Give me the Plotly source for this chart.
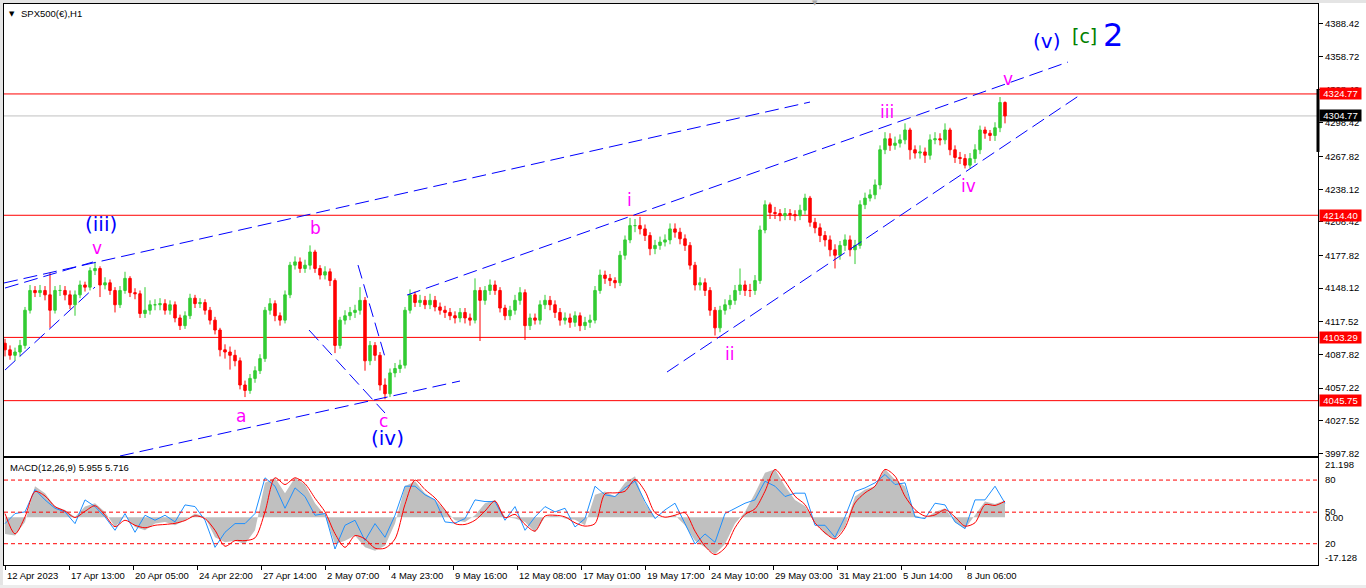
import plotly.graph_objects as go

# SPX500(€) H1 - price, one candle per ~5 hourly bars
closes = [
    4092, 4087, 4090, 4096, 4128, 4146, 4144, 4146, 4142, 4128,
    4146, 4146, 4142, 4133, 4142, 4151, 4149, 4164, 4166, 4151,
    4153, 4146, 4133, 4146, 4157, 4144, 4143, 4125, 4128, 4133,
    4133, 4134, 4128, 4133, 4121, 4114, 4123, 4139, 4134, 4135,
    4128, 4119, 4110, 4092, 4090, 4087, 4082, 4060, 4055, 4066,
    4073, 4084, 4128, 4134, 4123, 4119, 4142, 4169, 4172, 4166,
    4169, 4181, 4166, 4160, 4163, 4155, 4096, 4119, 4123, 4126,
    4128, 4137, 4082, 4096, 4087, 4060, 4052, 4071, 4075, 4078,
    4128, 4142, 4135, 4137, 4133, 4137, 4131, 4128, 4126, 4123,
    4121, 4126, 4121, 4119, 4146, 4137, 4146, 4151, 4146, 4130,
    4123, 4128, 4137, 4144, 4114, 4121, 4119, 4133, 4137, 4133,
    4126, 4119, 4121, 4117, 4123, 4114, 4117, 4119, 4146, 4160,
    4157, 4155, 4153, 4178, 4192, 4205, 4205, 4202, 4196, 4184,
    4187, 4190, 4192, 4202, 4199, 4193, 4187, 4169, 4151, 4153,
    4146, 4128, 4112, 4128, 4133, 4137, 4146, 4151, 4146, 4146,
    4155, 4201, 4224, 4217, 4216, 4214, 4216, 4215, 4214, 4219,
    4230, 4208, 4203, 4196, 4192, 4183, 4178, 4187, 4192, 4183,
    4187, 4224, 4230, 4233, 4242, 4274, 4284, 4278, 4280, 4283,
    4292, 4274, 4271, 4272, 4269, 4283, 4284, 4283, 4292, 4274,
    4267, 4266, 4260, 4266, 4274, 4292, 4289, 4287, 4294, 4317,
    4304.77,
]
highs = [
    4102, 4096, 4094, 4101, 4131, 4151, 4150, 4151, 4150, 4162,
    4150, 4151, 4150, 4146, 4146, 4155, 4154, 4167, 4172, 4168,
    4158, 4156, 4149, 4150, 4163, 4159, 4148, 4146, 4149, 4137,
    4138, 4139, 4138, 4137, 4136, 4124, 4127, 4143, 4142, 4139,
    4138, 4131, 4122, 4112, 4097, 4095, 4092, 4085, 4064, 4070,
    4077, 4088, 4131, 4139, 4137, 4126, 4146, 4172, 4177, 4176,
    4174, 4187, 4183, 4169, 4168, 4166, 4157, 4122, 4128, 4131,
    4133, 4149, 4140, 4100, 4099, 4090, 4066, 4075, 4080, 4083,
    4131, 4147, 4145, 4142, 4141, 4143, 4141, 4135, 4132, 4130,
    4127, 4130, 4130, 4125, 4157, 4149, 4150, 4156, 4155, 4149,
    4133, 4132, 4142, 4149, 4147, 4125, 4125, 4137, 4142, 4141,
    4137, 4130, 4126, 4125, 4127, 4126, 4122, 4124, 4150, 4165,
    4164, 4161, 4158, 4182, 4196, 4212, 4211, 4213, 4206, 4199,
    4192, 4195, 4197, 4207, 4207, 4203, 4197, 4190, 4172, 4158,
    4157, 4149, 4131, 4132, 4138, 4142, 4151, 4166, 4155, 4152,
    4160, 4205, 4228, 4226, 4222, 4220, 4221, 4220, 4219, 4224,
    4234, 4232, 4212, 4207, 4200, 4196, 4188, 4191, 4197, 4196,
    4192, 4228, 4235, 4238, 4247, 4278, 4290, 4289, 4286, 4288,
    4298, 4294, 4278, 4278, 4276, 4288, 4290, 4289, 4298, 4294,
    4278, 4272, 4270, 4271, 4279, 4296, 4295, 4292, 4299, 4322,
    4318,
]
lows = [
    4086, 4083, 4082, 4086, 4093, 4125, 4140, 4140, 4137, 4112,
    4125, 4141, 4137, 4129, 4123, 4139, 4145, 4146, 4160, 4140,
    4147, 4142, 4126, 4130, 4143, 4140, 4138, 4121, 4121, 4124,
    4128, 4128, 4124, 4124, 4117, 4110, 4111, 4120, 4130, 4130,
    4124, 4115, 4106, 4086, 4084, 4074, 4077, 4056, 4049, 4052,
    4062, 4070, 4081, 4124, 4118, 4114, 4116, 4139, 4165, 4162,
    4162, 4165, 4162, 4156, 4156, 4150, 4089, 4093, 4115, 4119,
    4121, 4124, 4073, 4078, 4082, 4055, 4047, 4049, 4067, 4071,
    4075, 4125, 4131, 4131, 4129, 4129, 4127, 4124, 4121, 4119,
    4116, 4117, 4116, 4114, 4116, 4100, 4133, 4142, 4142, 4126,
    4119, 4119, 4124, 4133, 4101, 4110, 4115, 4115, 4129, 4128,
    4121, 4114, 4115, 4112, 4113, 4109, 4110, 4112, 4116, 4143,
    4152, 4150, 4148, 4150, 4174, 4189, 4199, 4197, 4191, 4178,
    4179, 4183, 4186, 4188, 4194, 4188, 4182, 4165, 4146, 4146,
    4141, 4123, 4105, 4108, 4124, 4129, 4133, 4142, 4141, 4140,
    4142, 4152, 4198, 4211, 4211, 4209, 4210, 4210, 4209, 4210,
    4215, 4204, 4198, 4190, 4186, 4177, 4166, 4174, 4182, 4177,
    4170, 4184, 4220, 4227, 4229, 4238, 4270, 4273, 4274, 4276,
    4279, 4265, 4266, 4266, 4262, 4265, 4279, 4278, 4279, 4269,
    4262, 4261, 4257, 4257, 4262, 4270, 4284, 4282, 4282, 4290,
    4298,
]
first_open = 4098
opens = [first_open] + closes[:-1]
bars = list(range(len(closes)))

# time axis labels (bar positions on the same scale as the candles)
date_ticks = [0, 12.8, 25.6, 38.4, 51.2, 64, 76.8, 89.6, 102.4, 115.2,
              128, 140.8, 153.6, 166.4, 179.2, 192]
date_labels = ["12 Apr 2023", "17 Apr 13:00", "20 Apr 05:00", "24 Apr 22:00",
               "27 Apr 14:00", "2 May 07:00", "4 May 23:00", "9 May 16:00",
               "12 May 08:00", "17 May 01:00", "19 May 17:00", "24 May 10:00",
               "29 May 03:00", "31 May 21:00", "5 Jun 14:00", "8 Jun 06:00"]

price_ticks = [4388.42, 4358.72, 4328.42, 4298.42, 4267.82, 4238.12, 4208.42,
               4177.82, 4148.12, 4117.52, 4087.82, 4057.22, 4027.52, 3997.82]
red_levels = [4324.77, 4214.40, 4103.29, 4045.75]
bid = 4304.77

# MACD pane, one reading per 10 px
macd_bars = list(range(0, 201, 2))
macd_hist = [
    -6.0, -6.6, -1.7, 11.1, 8.6, 3.8, 2.6, 0.1, 3.8, 5.0,
    1.9, -3.5, 0.4, -3.5, -4.7, -2.3, -1.7, -2.9, -1.1, 1.3,
    0.1, -7.2, -9.0, -8.4, -9.6, -4.7, 12.3, 14.1, 8.6, 14.1,
    11.7, 5.0, 0.7, -9.6, -8.4, -6.6, -10.8, -12.0, -10.2, -2.3,
    11.1, 12.9, 8.6, 6.2, 2.6, -1.1, -1.7, 0.7, 5.0, 6.2,
    0.1, -0.5, -1.7, -5.4, 0.1, 0.7, -0.5, -0.9, -2.9, 8.0,
    9.2, 7.4, 12.3, 14.7, 5.0, 0.1, 0.1, 0.7, -2.9, -8.4,
    -10.8, -13.3, -9.6, -2.3, 1.9, 8.6, 15.9, 17.2, 11.1, 6.2,
    4.0, -1.7, -6.0, -7.8, -3.5, 7.4, 9.9, 11.1, 17.2, 13.5,
    11.1, 0.7, -0.5, 1.9, 3.2, -1.7, -4.1, 0.7, 5.6, 4.7, 5.955,
]
macd_signal = [
    1.3, -6.0, 0.1, 9.2, 7.6, 3.8, 2.2, -0.1, 2.1, 4.1,
    0.7, -3.4, -1.1, -2.9, -3.8, -2.9, -2.6, -2.2, -1.2, 0.5,
    -0.5, -4.7, -10.4, -8.4, -8.4, -7.4, 1.9, 14.1, 11.7, 14.1,
    12.0, 6.8, 1.9, -5.9, -10.8, -6.6, -7.8, -11.1, -11.1, -7.8,
    4.6, 13.3, 9.9, 6.9, 2.6, -2.3, -2.6, -1.1, 2.2, 5.8,
    -0.2, 1.0, -2.6, -5.0, 0.4, 0.7, 0.1, -2.0, -3.2, -2.3,
    8.4, 8.7, 9.3, 13.5, 9.3, 1.6, 0.0, 0.7, 1.6, -5.0,
    -10.4, -13.4, -11.0, -3.8, 1.0, 3.0, 9.3, 17.1, 12.9, 7.5,
    4.5, -2.0, -5.6, -7.8, -3.8, 5.1, 8.7, 11.1, 17.1, 14.7,
    7.5, 2.7, 0.4, 0.8, 2.7, 0.1, -3.2, -2.0, 4.5, 4.2, 5.716,
]
macd_blue = [
    -2.3, 1.3, 1.9, 9.9, 6.2, 3.2, 1.9, -2.3, 6.2, 3.8,
    0.1, -4.7, 1.3, -5.4, 0.7, -1.1, 0.7, -1.7, 4.4, 3.8,
    -1.1, -10.8, -5.4, -2.3, -2.3, 1.3, 14.1, 11.1, 3.2, 10.5,
    7.4, 0.7, 1.3, -11.4, -2.9, -1.1, -8.4, -2.3, -7.2, 0.7,
    11.1, 11.1, 8.0, 6.2, -1.7, -2.1, -0.5, 6.2, 5.6, 5.6,
    -1.1, 3.8, -4.7, 0.1, 3.8, 1.9, 3.2, -3.5, -0.5, 11.1,
    8.0, 7.4, 10.5, 12.9, 5.6, -0.5, 2.6, 5.0, -2.3, -9.6,
    -6.0, -9.0, 1.3, 3.2, 5.0, 6.2, 12.9, 11.1, 7.4, 8.6,
    8.6, -2.9, -2.9, -7.2, 0.1, 9.2, 10.5, 12.3, 15.3, 11.7,
    12.3, 0.1, -0.5, 5.0, 4.4, -1.7, -4.1, 6.2, 6.2, 11.1, 5.0,
]
macd_levels = [13.3, 1.8, -9.5]
macd_tickvals = [18.7, 13.3, 1.8, 0, -9.5, -14.6]
macd_ticktext = ["21.198", "80", "50", "0.00", "20", "-17.128"]

# wave trendlines: (bar, price) -> (bar, price)
trendlines = [
    ((-0.2, 4152.8), (161, 4317.4)),
    ((0, 4148.2), (17.6, 4171.9)),
    ((0, 4073.6), (18, 4149.1)),
    ((23, 3995.4), (91, 4063.6)),
    ((60.8, 4110.0), (76, 4034.5)),
    ((70.6, 4169.1), (76, 4085.4)),
    ((80.4, 4141.8), (212.6, 4353.8)),
    ((132.4, 4071.8), (215, 4323.8)),
]

# wave labels: text, bar, price, colour, size
wave_labels = [
    ("(iii)", 19.2, 4206.4, "#0000ff", 20),
    ("v", 18.4, 4184.6, "#ff00ff", 17),
    ("b", 62, 4202.8, "#ff00ff", 17),
    ("a", 47.2, 4031.7, "#ff00ff", 17),
    ("c", 75.6, 4027.2, "#ff00ff", 17),
    ("(iv)", 76.4, 4011.7, "#0000ff", 20),
    ("i", 124.8, 4228.3, "#ff00ff", 17),
    ("ii", 144.8, 4088.2, "#ff00ff", 17),
    ("iii", 176.4, 4308.3, "#ff00ff", 17),
    ("iv", 192.6, 4241.0, "#ff00ff", 17),
    ("v", 200.6, 4338.4, "#ff00ff", 17),
    ("(v)", 208.2, 4372.9, "#0000ff", 20),
    ("[c]", 215.8, 4377.5, "#008000", 19),
    ("2", 221.6, 4378.4, "#0000ff", 32),
]

FONT = "Liberation Sans"

fig = go.Figure()

fig.add_trace(go.Candlestick(
    x=bars, open=opens, high=highs, low=lows, close=closes,
    xaxis="x", yaxis="y",
    increasing=dict(line=dict(color="#33cc33", width=1), fillcolor="#33cc33"),
    decreasing=dict(line=dict(color="#ff0000", width=1), fillcolor="#ff0000"),
    whiskerwidth=0, showlegend=False, hoverinfo="skip",
))

fig.add_trace(go.Scatter(
    x=macd_bars, y=macd_hist, xaxis="x2", yaxis="y2", mode="lines",
    line=dict(width=0, color="#c0c0c0"), fill="tozeroy", fillcolor="#c0c0c0",
    showlegend=False, hoverinfo="skip",
))
fig.add_trace(go.Scatter(
    x=macd_bars, y=macd_blue, xaxis="x2", yaxis="y2", mode="lines",
    line=dict(width=1, color="#1e90ff"), showlegend=False, hoverinfo="skip",
))
fig.add_trace(go.Scatter(
    x=macd_bars, y=macd_signal, xaxis="x2", yaxis="y2", mode="lines",
    line=dict(width=1, color="#ff0000", shape="spline", smoothing=0.8),
    showlegend=False, hoverinfo="skip",
))

shapes = []
for lv in red_levels:
    shapes.append(dict(type="line", xref="x domain", yref="y", x0=0, x1=1, y0=lv, y1=lv,
                       line=dict(color="#ff0000", width=1), layer="below"))
shapes.append(dict(type="line", xref="x domain", yref="y", x0=0, x1=1, y0=bid, y1=bid,
                   line=dict(color="#c0c0c0", width=1), layer="below"))
for (xa, ya), (xb, yb) in trendlines:
    shapes.append(dict(type="line", xref="x", yref="y", x0=xa, y0=ya, x1=xb, y1=yb,
                       line=dict(color="#0000ff", width=1, dash="14px,6px")))
for lv in macd_levels:
    shapes.append(dict(type="line", xref="x2 domain", yref="y2", x0=0, x1=1, y0=lv, y1=lv,
                       line=dict(color="#ff0000", width=1, dash="4px,3px")))
# right border marker of the price pane
shapes.append(dict(type="line", xref="paper", yref="y", x0=1, x1=1, y0=4329.3, y1=4272.0,
                   line=dict(color="black", width=3)))
# window frame
shapes.append(dict(type="rect", xref="paper", yref="paper", x0=-0.01, x1=1.1,
                   y0=1.0018, y1=1.02, fillcolor="#e4e4e4", line=dict(width=0)))
shapes.append(dict(type="rect", xref="paper", yref="paper", x0=-0.01, x1=-0.0008,
                   y0=-0.1, y1=1.02, fillcolor="#e4e4e4", line=dict(width=0)))
shapes.append(dict(type="rect", xref="paper", yref="paper", x0=-0.01, x1=1.1,
                   y0=-0.1, y1=-0.0357, fillcolor="#ececec", line=dict(width=0)))

annotations = []
for text, bx, py, col, size in wave_labels:
    annotations.append(dict(text=text, x=bx, y=py, xref="x", yref="y", showarrow=False,
                            font=dict(family="DejaVu Sans", size=size, color=col)))
for lv in red_levels:
    annotations.append(dict(text=f"{lv:.2f}", x=1, y=lv, xref="paper", yref="y",
                            xanchor="left", xshift=1, showarrow=False, bgcolor="#ff0000",
                            borderpad=0, width=41,
                            font=dict(family=FONT, size=9.5, color="white")))
annotations.append(dict(text=f"{bid:.2f}", x=1, y=bid, xref="paper", yref="y",
                        xanchor="left", xshift=1, showarrow=False, bgcolor="black",
                        borderpad=0, width=41,
                        font=dict(family=FONT, size=9.5, color="white")))
annotations.append(dict(text="▼", x=0, y=1, xref="paper", yref="paper", xanchor="left",
                        yanchor="top", xshift=3, yshift=-4, showarrow=False,
                        font=dict(family="DejaVu Sans", size=7, color="black")))
annotations.append(dict(text="SPX500(€),H1", x=0, y=1, xref="paper", yref="paper",
                        xanchor="left", yanchor="top", xshift=15, yshift=-2, showarrow=False,
                        font=dict(family=FONT, size=9.5, color="black")))
annotations.append(dict(text="▼", x=162, y=1, xref="x", yref="paper", yanchor="middle",
                        yshift=1, showarrow=False,
                        font=dict(family="DejaVu Sans", size=7, color="#a8a8a8")))
annotations.append(dict(text="MACD(12,26,9) 5.955 5.716", x=0, y=1, xref="paper",
                        yref="y2 domain", xanchor="left", yanchor="top", xshift=4,
                        yshift=-2, showarrow=False,
                        font=dict(family=FONT, size=9.5, color="black")))
# date labels start at their tick, like the terminal draws them
for tv, lab in zip(date_ticks, date_labels):
    annotations.append(dict(text=lab, x=tv, y=0, xref="x2", yref="paper", xanchor="left",
                            yanchor="top", yshift=-3, showarrow=False,
                            font=dict(family=FONT, size=9.5, color="black")))

axis_common = dict(showgrid=False, zeroline=False, showline=True, mirror=True,
                   linecolor="black", linewidth=1)

fig.update_layout(
    width=1366, height=588,
    margin=dict(l=4, r=48, t=4, b=23),
    paper_bgcolor="white", plot_bgcolor="white",
    font=dict(family=FONT, size=9.5, color="black"),
    showlegend=False,
    shapes=shapes, annotations=annotations,
    xaxis=dict(range=[-0.2, 262.6], anchor="y", showticklabels=False, ticks="",
               rangeslider=dict(visible=False), **axis_common),
    xaxis2=dict(range=[-0.2, 262.6], anchor="y2", matches="x",
                tickvals=date_ticks, showticklabels=False, ticks="outside", ticklen=4,
                tickcolor="black", **axis_common),
    yaxis=dict(domain=[0.1943, 1], range=[3995.4, 4406.6], side="right", anchor="x",
               tickvals=price_ticks, ticktext=[f"{v:.2f}" for v in price_ticks],
               ticks="outside", ticklen=4, tickcolor="black",
               tickfont=dict(family=FONT, size=9.5, color="black"), **axis_common),
    yaxis2=dict(domain=[0, 0.1907], range=[-17.128, 21.198], side="right", anchor="x2",
                tickvals=macd_tickvals, ticktext=macd_ticktext,
                ticks="outside", ticklen=4, tickcolor="rgba(0,0,0,0)",
                tickfont=dict(family=FONT, size=9.5, color="black"), **axis_common),
)

fig.write_html("out.html", config={"displayModeBar": False},
               post_script="document.body.style.margin='0';")
